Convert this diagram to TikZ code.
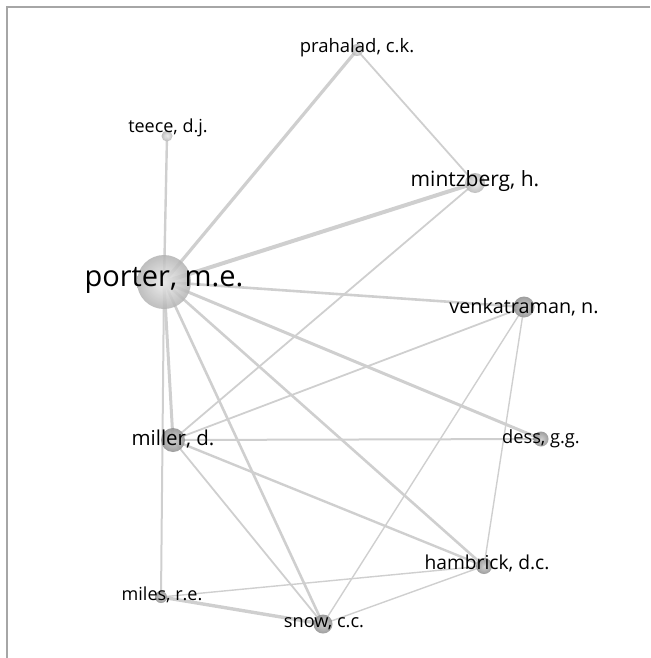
\documentclass[tikz,border=0pt]{standalone}
\usepackage{fontspec}
\setmainfont{Open Sans}
\usetikzlibrary{backgrounds}
\tikzset{
  bubble/.style={circle, inner sep=0pt, minimum size=#1, fill opacity=0.85, shading=radial, inner color=gray!15, outer color=gray!60},
  darkbubble/.style={circle, inner sep=0pt, minimum size=#1, fill opacity=0.9, shading=radial, inner color=gray!40, outer color=gray!85},
  lab/.style={inner sep=0pt, text=black},
  link/.style={draw=gray!38, line width=#1},
  link/.default=1.8pt
}
\newcommand{\fsz}[1]{\fontsize{#1}{#1}\selectfont}
\begin{document}
\begin{tikzpicture}[x=1pt,y=-1pt]
\useasboundingbox (0,0) rectangle (650,658);
\draw[gray!70, line width=1.3pt] (650,7) -- (7,7) -- (7,658);
% circles
\node[bubble=54pt]    (p)  at (164,282) {};
\node[bubble=12pt]    (pr) at (357,50) {};
\node[bubble=11pt]    (te) at (167,136) {};
\node[bubble=20pt]    (mi) at (475,183) {};
\node[darkbubble=21pt] (ve) at (524,307) {};
\node[darkbubble=24pt] (ml) at (173,440) {};
\node[darkbubble=15pt] (de) at (541,439) {};
\node[darkbubble=16pt] (ha) at (484,566) {};
\node[darkbubble=12pt] (mr) at (161,597) {};
\node[darkbubble=19pt] (sn) at (323,624) {};
% links
\begin{scope}[on background layer]
\draw[link=3.2pt] (p.center) -- (pr.center);
\draw[link=1.8pt] (pr.center) -- (mi.center);
\draw[link=2.4pt] (p.center) -- (te.center);
\draw[link=4pt]   (p.center) -- (mi.center);
\draw[link=2.6pt] (p.center) -- (ve.center);
\draw[link=3pt]   (p.center) -- (de.center);
\draw[link=2.6pt] (p.center) -- (ha.center);
\draw[link=2.6pt] (p.center) -- (sn.center);
\draw[link=3pt]   (p.center) -- (ml.center);
\draw[link=2pt]   (p.center) -- (mr.center);
\draw[link=1.8pt] (mi.center) -- (ml.center);
\draw[link=1.8pt] (ve.center) -- (ml.center);
\draw[link=1.4pt] (ve.center) -- (sn.center);
\draw[link=1.4pt] (ve.center) -- (ha.center);
\draw[link=2pt]   (ml.center) -- (de.center);
\draw[link=2.4pt] (ml.center) -- (ha.center);
\draw[link=1.8pt] (ml.center) -- (sn.center);
\draw[link=3.4pt] (mr.center) -- (sn.center);
\draw[link=1.4pt] (mr.center) -- (ha.center);
\draw[link=1.4pt] (sn.center) -- (ha.center);
\end{scope}
% labels
\node[lab, font=\fsz{29}] (pl)  at (164,280) {porter, m.e.};
\node[lab, font=\fsz{18.5}] (prl) at (357,48) {prahalad, c.k.};
\node[lab, font=\fsz{18}] (tel) at (168,128) {teece, d.j.};
\node[lab, font=\fsz{21}] (mil) at (475,181) {mintzberg, h.};
\node[lab, font=\fsz{19.8}] (vel) at (524,307) {venkatraman, n.};
\node[lab, font=\fsz{20.5}] (mll) at (173,439) {miller, d.};
\node[lab, font=\fsz{18.2}] (del) at (541,439) {dess, g.g.};
\node[lab, font=\fsz{19.2}] (hal) at (487,563) {hambrick, d.c.};
\node[lab, font=\fsz{18}] (mrl) at (162,595) {miles, r.e.};
\node[lab, font=\fsz{18.2}] (snl) at (324,624) {snow, c.c.};
\end{tikzpicture}
\end{document}
